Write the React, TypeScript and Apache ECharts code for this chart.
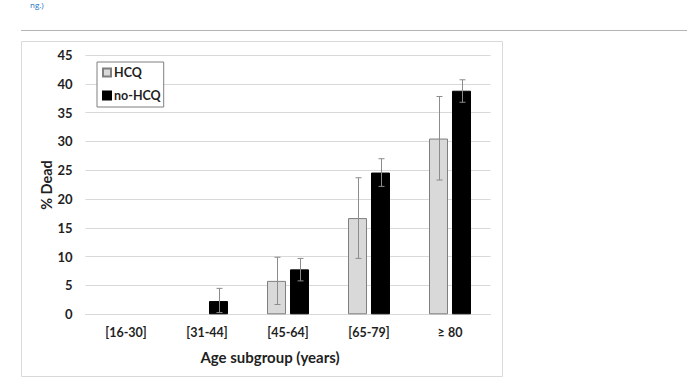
import React, { useEffect, useRef } from "react";
import * as echarts from "echarts";

const categories = ["[16-30]", "[31-44]", "[45-64]", "[65-79]", "≥ 80"];
const hcqValues = [0, 0, 5.8, 16.7, 30.5];
const noHcqValues = [0, 2.3, 7.8, 24.6, 38.8];
const hcqLow = [null, null, 1.7, 9.7, 23.3];
const hcqHigh = [null, null, 9.9, 23.7, 37.8];
const noHcqLow = [null, 0.3, 5.8, 22.2, 36.8];
const noHcqHigh = [null, 4.5, 9.7, 27.0, 40.7];
const yTicks = { min: 0, max: 45, interval: 5 };

const FONT = "Lato, 'Open Sans', sans-serif";
const TEXT = "#1f1f1f";

function errorSeries(name: string, low: (number | null)[], high: (number | null)[], offset: number) {
  const data = low
    .map((l, i) => (l === null || high[i] === null ? null : [i, l, high[i]]))
    .filter((d) => d !== null);
  return {
    type: "custom",
    name: name + " error",
    z: 10,
    silent: true,
    data,
    encode: { x: 0, y: [1, 2] },
    renderItem: (params: any, api: any) => {
      const idx = api.value(0);
      const lowP = api.coord([idx, api.value(1)]);
      const highP = api.coord([idx, api.value(2)]);
      const x = Math.round(lowP[0] + offset) + 0.5;
      const y1 = highP[1];
      const y2 = lowP[1];
      const style = { stroke: "#8c8c8c", lineWidth: 1 };
      return {
        type: "group",
        children: [
          { type: "line", shape: { x1: x, y1, x2: x, y2 }, style },
          { type: "line", shape: { x1: x - 3, y1, x2: x + 3, y2: y1 }, style },
          { type: "line", shape: { x1: x - 3, y1: y2, x2: x + 3, y2 }, style },
        ],
      };
    },
  };
}

export default function App() {
  const ref = useRef<HTMLDivElement>(null);
  useEffect(() => {
    if (!ref.current) return;
    const chart = echarts.init(ref.current, null, { renderer: "svg" });
    const toBar = (v: number) => (v === 0 ? "-" : v);
    chart.setOption({
      animation: false,
      backgroundColor: "#ffffff",
      grid: { left: 85.5, right: 196.5, top: 55, bottom: 73.7, containLabel: false },
      legend: {
        data: ["HCQ", "no-HCQ"],
        orient: "vertical",
        left: 97,
        top: 62,
        icon: "rect",
        itemWidth: 8,
        itemHeight: 8,
        itemGap: 10,
        padding: [4, 3, 5, 5],
        borderColor: "#7f7f7f",
        borderWidth: 1,
        backgroundColor: "#ffffff",
        textStyle: { fontFamily: FONT, fontWeight: "bold", fontSize: 12.5, color: TEXT, padding: [0, 0, 0, -2] },
      },
      xAxis: {
        type: "category",
        data: categories,
        axisLine: { show: true, lineStyle: { color: "#d9d9d9" } },
        axisTick: { show: false },
        axisLabel: { margin: 12, fontFamily: FONT, fontWeight: "bold", fontSize: 12.5, color: TEXT },
      },
      yAxis: {
        type: "value",
        min: yTicks.min,
        max: yTicks.max,
        interval: yTicks.interval,
        axisLine: { show: false },
        axisTick: { show: false },
        splitLine: { lineStyle: { color: "#d9d9d9" } },
        axisLabel: { margin: 13, fontFamily: FONT, fontWeight: "bold", fontSize: 13, color: TEXT },
      },
      series: [
        {
          type: "bar",
          name: "HCQ",
          data: hcqValues.map(toBar),
          barWidth: 19,
          barGap: "21%",
          itemStyle: { color: "#d9d9d9", borderColor: "#7f7f7f", borderWidth: 1 },
        },
        {
          type: "bar",
          name: "no-HCQ",
          data: noHcqValues.map(toBar),
          barWidth: 19,
          barGap: "21%",
          itemStyle: { color: "#000000", borderColor: "#000000", borderWidth: 1 },
        },
        errorSeries("HCQ", hcqLow, hcqHigh, -11.5),
        errorSeries("no-HCQ", noHcqLow, noHcqHigh, 11.5),
      ],
      graphic: [
        {
          type: "text",
          left: 30,
          top: 0,
          style: { text: "ng.)", fontFamily: "'Open Sans', sans-serif", fontSize: 8, fill: "#1a6fc4" },
        },
        {
          type: "line",
          shape: { x1: 21, y1: 30.5, x2: 687, y2: 30.5 },
          style: { stroke: "#b4b4b4", lineWidth: 1 },
        },
        {
          type: "rect",
          shape: { x: 21.5, y: 41.5, width: 481, height: 335 },
          style: { fill: "none", stroke: "#d9d9d9", lineWidth: 1 },
          z: -1,
        },
        {
          type: "text",
          x: 46,
          y: 185,
          rotation: Math.PI / 2,
          style: {
            text: "% Dead",
            fontFamily: FONT,
            fontWeight: "bold",
            fontSize: 14.5,
            fill: TEXT,
            align: "center",
            verticalAlign: "middle",
          },
        },
        {
          type: "text",
          x: 270,
          y: 357,
          style: {
            text: "Age subgroup (years)",
            fontFamily: FONT,
            fontWeight: "bold",
            fontSize: 15,
            fill: TEXT,
            align: "center",
            verticalAlign: "middle",
          },
        },
      ],
    });
    return () => chart.dispose();
  }, []);
  return <div ref={ref} style={{ position: "fixed", left: 0, top: 0, width: 687, height: 388 }} />;
}
